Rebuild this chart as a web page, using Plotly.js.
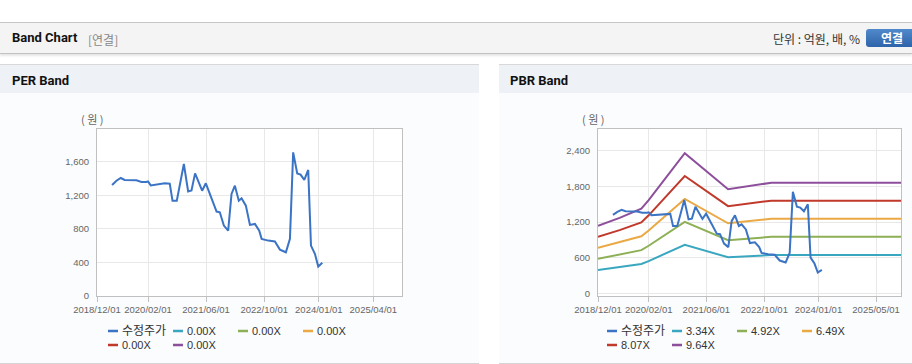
<!DOCTYPE html>
<html><head><meta charset="utf-8">
<script src="https://cdn.plot.ly/plotly-3.0.1.min.js"></script>
<style>
html,body{margin:0;padding:0}
body{width:912px;height:364px;overflow:hidden;background:#fff;position:relative;font-family:"Liberation Sans","Noto Sans CJK KR",sans-serif}
#top{position:absolute;left:0;top:22px;width:912px;height:30px;background:#f4f4f4;border-top:1px solid #c6c6c6;border-bottom:1px solid #c2c2c2;box-shadow:0 2px 2px rgba(0,0,0,0.10)}
#top .t{position:absolute;left:12px;top:7px;font:bold 13px Roboto,"Noto Sans CJK KR",sans-serif;color:#111}
#top .s{position:absolute;left:88px;top:8px;font:12px "Noto Sans CJK KR",sans-serif;color:#888}
#top .u{position:absolute;right:52px;top:7px;font:12px "Noto Sans CJK KR",sans-serif;color:#333}
#top .b{position:absolute;left:866px;top:6px;width:52px;height:18px;border-radius:3px;background:linear-gradient(#5089cb,#2e64aa);color:#fff;font:bold 12px "Noto Sans CJK KR",sans-serif;text-align:center;line-height:18px}
.panel{position:absolute;top:64px;height:298px;border-top:1px solid #d8d8d8;border-bottom:1px solid #d4d4d4;background:#fbfcfd}
.panel .hd{height:28px;background:#eef2f7;font:bold 13px Roboto,sans-serif;color:#111;line-height:31px;padding-left:12px}
#pl{left:0;width:479px}
#pr{left:499px;width:413px}
#pr .hd{padding-left:11px}
.ch{position:absolute;top:29px;left:0;height:270px}
</style></head>
<body>
<div id="top"><span class="t">Band Chart</span><span class="s">[연결]</span><span class="u">단위 : 억원, 배, %</span><div class="b">연결</div></div>
<div class="panel" id="pl"><div class="hd">PER Band</div><div class="ch" id="perChart" style="width:479px"></div></div>
<div class="panel" id="pr"><div class="hd">PBR Band</div><div class="ch" id="pbrChart" style="width:413px"></div></div>
<script>
// ---- data ----
var priceDates = ['2019-04-06','2019-05-13','2019-06-18','2019-07-21','2019-10-27','2019-12-08','2020-01-19','2020-02-01','2020-02-24','2020-04-12','2020-06-20','2020-08-01','2020-08-24','2020-09-29','2020-11-27','2021-01-02','2021-01-30','2021-03-01','2021-04-29','2021-05-30','2021-07-11','2021-08-13','2021-08-28','2021-09-24','2021-10-28','2021-12-03','2021-12-31','2022-01-28','2022-03-02','2022-03-25','2022-04-30','2022-06-03','2022-07-15','2022-08-20','2022-09-09','2022-11-03','2022-12-29','2023-02-09','2023-03-31','2023-05-04','2023-05-31','2023-07-04','2023-08-01','2023-09-01','2023-10-04','2023-10-27','2023-11-29','2023-12-27','2024-01-30'];
var priceValues = [1323,1374,1406,1383,1378,1359,1359,1366,1318,1327,1343,1339,1136,1136,1573,1247,1259,1461,1255,1343,1184,1077,1006,997,839,779,1216,1315,1136,1164,1077,847,859,779,681,660,649,553,521,681,1711,1461,1446,1383,1502,601,502,351,395];

var perNames = ['수정주가','0.00X','0.00X','0.00X','0.00X','0.00X'];
var pbrNames = ['수정주가','3.34X','4.92X','6.49X','8.07X','9.64X'];

var bandDates = ['2018-12-01','2019-06-01','2019-12-01','2020-02-01','2020-12-01','2021-12-01','2022-12-01','2025-11-27'];
var pbrBand1 = [394,441,494,544,818,608,646,646];
var pbrBand2 = [581,649,728,802,1205,895,952,952];
var pbrBand3 = [766,857,961,1058,1590,1181,1256,1256];
var pbrBand4 = [952,1065,1194,1315,1977,1469,1562,1562];
var pbrBand5 = [1138,1272,1427,1571,2362,1754,1865,1865];

var perTickVals = ['2018-12-01','2020-02-01','2021-06-01','2022-10-01','2024-01-01','2025-04-01'];
var perTickText = ['2018/12/01','2020/02/01','2021/06/01','2022/10/01','2024/01/01','2025/04/01'];
var pbrTickVals = ['2018-12-01','2020-02-01','2021-06-01','2022-10-01','2024-01-01','2025-05-01'];
var pbrTickText = ['2018/12/01','2020/02/01','2021/06/01','2022/10/01','2024/01/01','2025/05/01'];
var perYTicks = [0,400,800,1200,1600];
var pbrYTicks = [0,600,1200,1800,2400];

var colors = ['#3b73c5','#3aa7c0','#8db056','#eaa944','#c0392b','#8d4f9b'];

// ---- helpers ----
var TICKFONT = {family:'"Liberation Sans", Arial, sans-serif', size:9.5, color:'#666'};
function makeLayout(W,H,m,xr,yr,tv,tt,yt,names){
  var pw = W-m.l-m.r, ph = H-m.t-m.b;
  function px(x){return (x-m.l)/pw;}
  function py(y){return (H-m.b-y)/ph;}
  var shapes=[], ann=[];
  names.forEach(function(n,i){
    var col=i%4,row=Math.floor(i/4);
    var x0=108+65*col, y=237+14*row;
    shapes.push({type:'line',xref:'paper',yref:'paper',x0:px(x0),x1:px(x0+10),y0:py(y),y1:py(y),line:{color:colors[i],width:2.5}});
    ann.push({xref:'paper',yref:'paper',x:px(x0+12),y:py(y),xanchor:'left',yanchor:'middle',showarrow:false,text:n,
      font:{family:'"Liberation Sans","Noto Sans CJK KR",sans-serif',size:i===0?12:11,color:'#333'}});
  });
  ann.push({xref:'paper',yref:'paper',x:px(m.l-5),y:py(25),xanchor:'center',yanchor:'middle',showarrow:false,text:'( 원 )',
    font:{family:'"Noto Sans CJK KR",sans-serif',size:11,color:'#666'}});
  return {
    width:W,height:H,margin:m,paper_bgcolor:'rgba(0,0,0,0)',plot_bgcolor:'#ffffff',showlegend:false,
    xaxis:{type:'date',range:xr,tickvals:tv,ticktext:tt,tickfont:TICKFONT,showgrid:true,gridcolor:'#e8e8e8',
      showline:true,mirror:true,linecolor:'#c0c0c0',linewidth:1,ticks:'outside',ticklen:5,tickcolor:'#c0c0c0',zeroline:false,fixedrange:true},
    yaxis:{range:yr,tickvals:yt,ticktext:yt.map(function(v){return v.toLocaleString('en-US');}),tickfont:TICKFONT,showgrid:true,gridcolor:'#e8e8e8',
      showline:true,mirror:true,linecolor:'#c0c0c0',linewidth:1,ticks:'',zeroline:false,fixedrange:true,ticklabelstandoff:5},
    shapes:shapes,annotations:ann
  };
}
var xr = ['2018-12-01','2025-11-27'];

// PER
var perTraces = [];
for (var i=1;i<6;i++) perTraces.push({type:'scatter',mode:'lines',x:[],y:[],name:perNames[i],line:{color:colors[i],width:2}});
perTraces.push({type:'scatter',mode:'lines',x:priceDates,y:priceValues,name:perNames[0],line:{color:colors[0],width:2}});
Plotly.newPlot('perChart',perTraces,
  makeLayout(479,270,{l:97,r:77,t:35,b:68,pad:0},xr,[0,1990],perTickVals,perTickText,perYTicks,perNames),
  {displayModeBar:false,staticPlot:true});

// PBR
var bands=[pbrBand1,pbrBand2,pbrBand3,pbrBand4,pbrBand5];
var pbrTraces=[];
bands.forEach(function(b,k){pbrTraces.push({type:'scatter',mode:'lines',x:bandDates,y:b,name:pbrNames[k+1],line:{color:colors[k+1],width:2}});});
pbrTraces.push({type:'scatter',mode:'lines',x:priceDates,y:priceValues,name:pbrNames[0],line:{color:colors[0],width:2}});
Plotly.newPlot('pbrChart',pbrTraces,
  makeLayout(413,270,{l:99,r:11,t:35,b:68,pad:0},xr,[-45,2770],pbrTickVals,pbrTickText,pbrYTicks,pbrNames),
  {displayModeBar:false,staticPlot:true});
</script>
</body></html>
